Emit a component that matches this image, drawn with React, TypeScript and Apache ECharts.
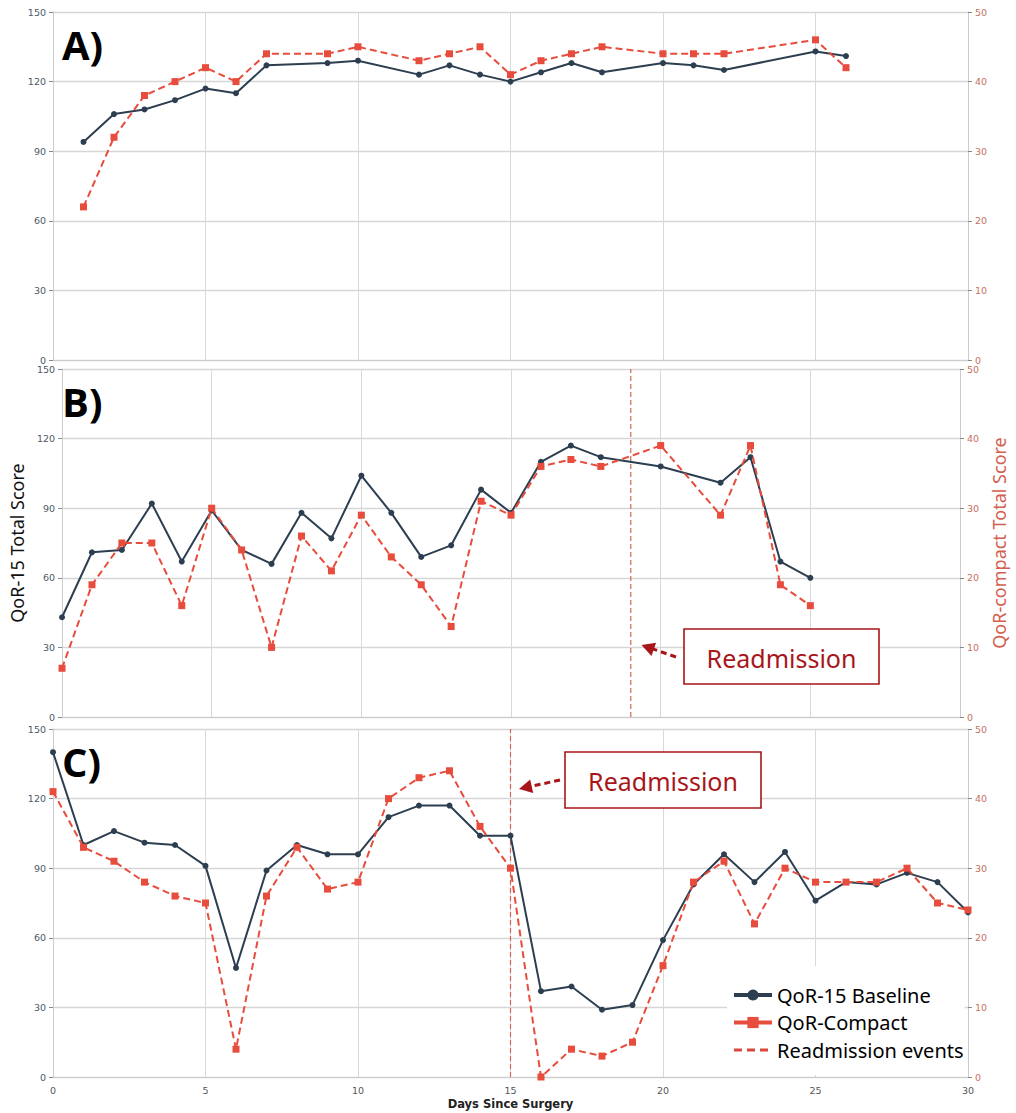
import React, { useEffect, useRef } from "react";
import * as echarts from "echarts";

// Panel A
const aDays = [1, 2, 3, 4, 5, 6, 7, 9, 10, 12, 13, 14, 15, 16, 17, 18, 20, 21, 22, 25, 26];
const aQor15 = [94, 106, 108, 112, 117, 115, 127, 128, 129, 123, 127, 123, 120, 124, 128, 124, 128, 127, 125, 133, 131];
const aCompact = [22, 32, 38, 40, 42, 40, 44, 44, 45, 43, 44, 45, 41, 43, 44, 45, 44, 44, 44, 46, 42];

// Panel B
const bDays = [0, 1, 2, 3, 4, 5, 6, 7, 8, 9, 10, 11, 12, 13, 14, 15, 16, 17, 18, 20, 22, 23, 24, 25];
const bQor15 = [43, 71, 72, 92, 67, 89, 72, 66, 88, 77, 104, 88, 69, 74, 98, 88, 110, 117, 112, 108, 101, 112, 67, 60];
const bCompact = [7, 19, 25, 25, 16, 30, 24, 10, 26, 21, 29, 23, 19, 13, 31, 29, 36, 37, 36, 39, 29, 39, 19, 16];
const bReadmission = 19;

// Panel C
const cDays = [0, 1, 2, 3, 4, 5, 6, 7, 8, 9, 10, 11, 12, 13, 14, 15, 16, 17, 18, 19, 20, 21, 22, 23, 24, 25, 26, 27, 28, 29, 30];
const cQor15 = [140, 100, 106, 101, 100, 91, 47, 89, 100, 96, 96, 112, 117, 117, 104, 104, 37, 39, 29, 31, 59, 83, 96, 84, 97, 76, 84, 83, 88, 84, 71];
const cCompact = [41, 33, 31, 28, 26, 25, 4, 26, 33, 27, 28, 40, 43, 44, 36, 30, 0, 4, 3, 5, 16, 28, 31, 22, 30, 28, 28, 28, 30, 25, 24];
const cReadmission = 15;

const panelLabels = ["A)", "B)", "C)"];
const seriesNames = ["QoR-15 Baseline", "QoR-Compact", "Readmission events"];
const leftAxisTitle = "QoR-15 Total Score";
const rightAxisTitle = "QoR-compact Total Score";
const xAxisTitle = "Days Since Surgery";
const annotationText = "Readmission";

const DARK = "#2c3e50";
const RED = "#e74c3c";
const READ = "#d0675b";
const ANN = "#a8161a";

const panels = [
  { days: aDays, q: aQor15, c: aCompact, readmission: null as number | null },
  { days: bDays, q: bQor15, c: bCompact, readmission: bReadmission },
  { days: cDays, q: cQor15, c: cCompact, readmission: cReadmission },
];

const GRID_TOPS = [12, 369, 729];
const GRID_LEFT = 53;
const GRID_W = 915;
const GRID_H = 348;

function pair(xs: number[], ys: number[]) {
  return xs.map((x, i) => [x, ys[i]]);
}

function arrow(x1: number, y1: number, tx: number, ty: number) {
  const dx = tx - x1;
  const dy = ty - y1;
  const len = Math.sqrt(dx * dx + dy * dy);
  const ux = dx / len;
  const uy = dy / len;
  const hl = 13;
  const hw = 7;
  const bx = tx - ux * hl;
  const by = ty - uy * hl;
  const px = -uy * hw;
  const py = ux * hw;
  return [
    {
      type: "line",
      shape: { x1, y1, x2: bx + ux * 2, y2: by + uy * 2 },
      style: { stroke: ANN, lineWidth: 3, lineDash: [6, 4] },
      z: 10,
    },
    {
      type: "polygon",
      shape: { points: [[tx, ty], [bx + px, by + py], [bx - px, by - py]] },
      style: { fill: ANN },
      z: 10,
    },
  ];
}

function box(x: number, y: number, w: number, h: number) {
  return [
    {
      type: "rect",
      shape: { x, y, width: w, height: h },
      style: { fill: "#fff", stroke: ANN, lineWidth: 1.6 },
      z: 10,
    },
    {
      type: "text",
      x: x + w / 2,
      y: y + h / 2 + 1,
      style: {
        text: annotationText,
        fill: ANN,
        fontSize: 25,
        fontFamily: "Noto Sans",
        align: "center",
        verticalAlign: "middle",
      },
      z: 11,
    },
  ];
}

export default function App() {
  const ref = useRef<HTMLDivElement>(null);
  useEffect(() => {
    if (!ref.current) return;
    const chart = echarts.init(ref.current, undefined, { renderer: "svg" });

    const grid = GRID_TOPS.map((t) => ({ left: GRID_LEFT, top: t, width: GRID_W, height: GRID_H }));

    const xAxis = GRID_TOPS.map((_, i) => ({
      type: "value",
      gridIndex: i,
      min: 0,
      max: 30,
      interval: 5,
      axisLine: { show: true, lineStyle: { color: "#cccccc", width: 1 } },
      axisTick: { show: false },
      splitLine: { show: true, lineStyle: { color: "#d9d9d9", width: 1 } },
      axisLabel: {
        show: i === 2,
        color: "#555",
        fontSize: 9.5,
        fontFamily: "DejaVu Sans",
        margin: 8,
      },
      name: i === 2 ? xAxisTitle : "",
      nameLocation: "middle",
      nameGap: 21,
      nameTextStyle: { fontSize: 11.5, fontWeight: "bold", color: "#222", fontFamily: "DejaVu Sans" },
    }));

    const yAxis: any[] = [];
    GRID_TOPS.forEach((_, i) => {
      yAxis.push({
        type: "value",
        gridIndex: i,
        position: "left",
        min: 0,
        max: 150,
        interval: 30,
        axisLine: { show: true, lineStyle: { color: "#cccccc" } },
        axisTick: { show: true, length: 4, lineStyle: { color: "#888" } },
        splitLine: { show: true, lineStyle: { color: "#d6d6d6", width: 1.3 } },
        axisLabel: { color: "#4d5866", fontSize: 9.5, fontFamily: "DejaVu Sans", margin: 7 },
        name: i === 1 ? leftAxisTitle : "",
        nameLocation: "middle",
        nameGap: 25,
        nameTextStyle: { fontSize: 18, color: "#111", fontFamily: "Noto Sans" },
      });
      yAxis.push({
        type: "value",
        gridIndex: i,
        position: "right",
        min: 0,
        max: 50,
        interval: 10,
        axisLine: { show: true, lineStyle: { color: "#cccccc" } },
        axisTick: { show: true, length: 4, lineStyle: { color: "#888" } },
        splitLine: { show: false },
        axisLabel: { color: "#c8705f", fontSize: 9.5, fontFamily: "DejaVu Sans", margin: 7 },
        name: i === 1 ? rightAxisTitle : "",
        nameLocation: "middle",
        nameGap: 27,
        nameTextStyle: { fontSize: 18, color: "#d2604f", fontFamily: "Noto Sans" },
      });
    });

    const series: any[] = [];
    panels.forEach((p, i) => {
      series.push({
        name: seriesNames[0],
        type: "line",
        xAxisIndex: i,
        yAxisIndex: i * 2,
        data: pair(p.days, p.q),
        symbol: "circle",
        symbolSize: 6,
        itemStyle: { color: DARK },
        lineStyle: { color: DARK, width: 2 },
        z: 3,
      });
      series.push({
        name: seriesNames[1],
        type: "line",
        xAxisIndex: i,
        yAxisIndex: i * 2 + 1,
        data: pair(p.days, p.c),
        symbol: "rect",
        symbolSize: 7,
        itemStyle: { color: RED },
        lineStyle: { color: RED, width: 2, type: [7, 4] },
        z: 4,
      });
      if (p.readmission !== null) {
        series.push({
          name: seriesNames[2],
          type: "line",
          xAxisIndex: i,
          yAxisIndex: i * 2,
          data: [
            [p.readmission, 0],
            [p.readmission, 150],
          ],
          symbol: "none",
          itemStyle: { color: READ },
          lineStyle: { color: READ, width: 1.2, type: [5, 3] },
          z: 2,
        });
      }
    });

    const graphic: any[] = [];
    panelLabels.forEach((lbl, i) => {
      graphic.push({
        type: "text",
        x: 62,
        y: GRID_TOPS[i] + 32,
        style: {
          text: lbl,
          fill: "#000",
          fontSize: 40,
          fontWeight: "bold",
          fontFamily: "Open Sans",
          verticalAlign: "middle",
        },
        z: 10,
      });
    });
    graphic.push(...box(684, 629, 195, 55));
    graphic.push(...arrow(676, 657, 641.5, 645));
    graphic.push(...box(565, 752, 196, 56));
    graphic.push(...arrow(560, 780, 519, 789));

    chart.setOption({
      animation: false,
      backgroundColor: "#fff",
      grid,
      xAxis,
      yAxis,
      series,
      graphic,
      legend: {
        left: 727,
        top: 966,
        orient: "vertical",
        backgroundColor: "#fff",
        padding: [19, 1, 15, 5],
        itemWidth: 38,
        itemHeight: 14,
        itemGap: 7.5,
        textStyle: { fontSize: 20, fontFamily: "Noto Sans", color: "#000", lineHeight: 20 },
        data: [
          { name: seriesNames[0], lineStyle: { width: 4, type: "solid" } },
          { name: seriesNames[1], lineStyle: { width: 4, type: "solid" } },
          {
            name: seriesNames[2],
            lineStyle: { width: 3, type: [8, 5], color: "#d9483a" },
            itemStyle: { color: "rgba(0,0,0,0)", borderWidth: 0, opacity: 0 },
          },
        ],
        z: 5,
      },
    });
    return () => chart.dispose();
  }, []);
  return (
    <div
      ref={ref}
      style={{ position: "absolute", left: 0, top: 0, width: 1016, height: 1113, background: "#fff" }}
    />
  );
}
